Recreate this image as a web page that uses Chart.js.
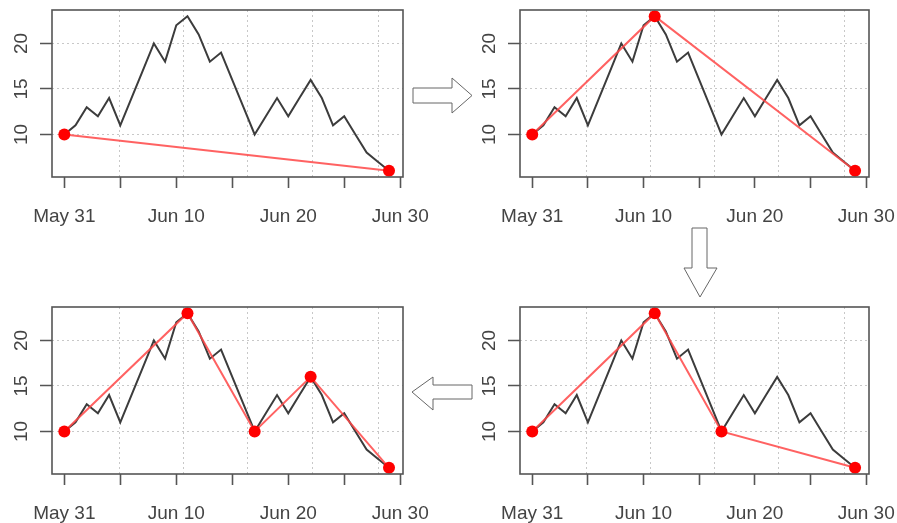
<!DOCTYPE html>
<html>
<head>
<meta charset="utf-8">
<script src="https://cdn.jsdelivr.net/npm/chart.js@4/dist/chart.umd.min.js"></script>
<style>
  html, body { margin: 0; padding: 0; background: #fff; overflow: hidden; }
  body { width: 897px; height: 523px; position: relative; }
  .panel { position: absolute; }
  svg { position: absolute; left: 0; top: 0; }
</style>
</head>
<body>
<div class="panel" id="p1" style="left:0px;top:0px;width:440px;height:240px"><canvas id="c1"></canvas></div>
<div class="panel" id="p2" style="left:468px;top:0px;width:429px;height:240px"><canvas id="c2"></canvas></div>
<div class="panel" id="p3" style="left:0px;top:297px;width:440px;height:226px"><canvas id="c3"></canvas></div>
<div class="panel" id="p4" style="left:468px;top:297px;width:429px;height:226px"><canvas id="c4"></canvas></div>
<svg width="897" height="523" viewBox="0 0 897 523">
  <polygon points="413,88 452,88 452,78 472,95.5 452,113 452,103 413,103" fill="#fff" stroke="#666" stroke-width="1"/>
  <polygon points="692,228 707,228 707,268 717,268 700,297 684,268 692,268" fill="#fff" stroke="#666" stroke-width="1"/>
  <polygon points="412,392 433,377 433,385 472,385 472,399 433,399 433,410" fill="#fff" stroke="#666" stroke-width="1"/>
</svg>
<script>
// ---- data (day offset from May 31) ----
const days   = [0,1,2,3,4,5,6,7,8,9,10,11,12,13,14,15,16,17,18,19,20,21,22,23,24,25,26,27,28,29];
const values = [10,11,13,12,14,11,14,17,20,18,22,23,21,18,19,16,13,10,12,14,12,14,16,14,11,12,10,8,7,6];

// key points kept in each panel (indices into days/values)
const keptPanel1 = [0, 29];
const keptPanel2 = [0, 11, 29];
const keptPanel3 = [0, 11, 17, 22, 29];
const keptPanel4 = [0, 11, 17, 29];

// axis ticks
const xTickDays   = [0, 5, 10, 15, 20, 25, 30];
const xLabelDays  = [0, 10, 20, 30];
const xLabelTexts = ["May 31", "Jun 10", "Jun 20", "Jun 30"];
const yTicks      = [10, 15, 20];
const xGridDays   = [4.85, 10.6, 16.35, 22.1, 28.0];

const FONT = '"Liberation Sans", Arial, sans-serif';
const AXIS_COLOR = '#555';
const TEXT_COLOR = '#444';

const boxPlugin = {
  id: 'rbox',
  beforeDatasetsDraw(chart) {
    const {ctx, chartArea: a, scales} = chart;
    ctx.save();
    ctx.strokeStyle = '#c8c8c8';
    ctx.lineWidth = 1;
    ctx.setLineDash([2, 3]);
    xGridDays.forEach(d => {
      const px = Math.round(scales.x.getPixelForValue(d)) + 0.5;
      ctx.beginPath();
      ctx.moveTo(px, a.top);
      ctx.lineTo(px, a.bottom);
      ctx.stroke();
    });
    ctx.restore();
  },
  afterDraw(chart) {
    const {ctx, chartArea: a, scales} = chart;
    ctx.save();
    ctx.strokeStyle = AXIS_COLOR;
    ctx.lineWidth = 1.6;
    ctx.strokeRect(a.left, a.top, a.right - a.left, a.bottom - a.top);
    // rotated y labels (R style)
    ctx.fillStyle = TEXT_COLOR;
    ctx.font = '19px ' + FONT;
    ctx.textAlign = 'center';
    ctx.textBaseline = 'middle';
    scales.y.ticks.forEach(t => {
      const py = scales.y.getPixelForValue(t.value);
      ctx.save();
      ctx.translate(a.left - 30, py);
      ctx.rotate(-Math.PI / 2);
      ctx.fillText(String(t.value), 0, 0);
      ctx.restore();
    });
    ctx.restore();
  }
};

function makeChart(id, kept, xAxisHeight, padRight) {
  const series = days.map((d, i) => ({x: d, y: values[i]}));
  const keptPts = kept.map(i => ({x: days[i], y: values[i]}));
  return new Chart(document.getElementById(id), {
    type: 'line',
    data: {
      datasets: [
        {
          data: keptPts,
          borderColor: 'rgba(255,70,70,0.85)',
          borderWidth: 2,
          pointRadius: 6,
          pointBackgroundColor: '#ff0000',
          pointBorderColor: '#ff0000',
          pointBorderWidth: 0,
          tension: 0,
          order: 0
        },
        {
          data: series,
          borderColor: '#3c3c3c',
          borderWidth: 2,
          pointRadius: 0,
          tension: 0,
          order: 1
        }
      ]
    },
    options: {
      responsive: true,
      maintainAspectRatio: false,
      animation: false,
      devicePixelRatio: 1,
      layout: { padding: { left: 0, top: 10, right: padRight, bottom: 0 } },
      plugins: { legend: { display: false }, tooltip: { enabled: false } },
      scales: {
        x: {
          type: 'linear',
          min: -1.1,
          max: 30.25,
          afterBuildTicks(scale) { scale.ticks = xTickDays.map(v => ({value: v})); },
          afterFit(scale) {
            scale.height = xAxisHeight;
            scale.paddingLeft = 0;
            scale.paddingRight = 0;
          },
          border: { display: false },
          grid: {
            drawOnChartArea: false,
            drawTicks: true,
            tickLength: 11,
            tickColor: AXIS_COLOR,
            tickWidth: 1.6
          },
          ticks: {
            autoSkip: false,
            maxRotation: 0,
            minRotation: 0,
            padding: 17,
            color: TEXT_COLOR,
            font: { family: FONT, size: 19 },
            callback(v) {
              const k = xLabelDays.indexOf(v);
              return k >= 0 ? xLabelTexts[k] : '';
            }
          }
        },
        y: {
          type: 'linear',
          min: 5.32,
          max: 23.68,
          afterBuildTicks(scale) { scale.ticks = yTicks.map(v => ({value: v})); },
          afterFit(scale) {
            scale.width = 52;
            scale.paddingTop = 0;
            scale.paddingBottom = 0;
          },
          border: { display: false, dash: [2, 3] },
          grid: {
            color: '#c8c8c8',
            lineWidth: 1,
            drawTicks: true,
            tickLength: 12,
            tickColor: AXIS_COLOR,
            tickWidth: 1.6,
            tickBorderDash: [1, 0]
          },
          ticks: { display: false }
        }
      }
    },
    plugins: [boxPlugin]
  });
}

makeChart('c1', keptPanel1, 63, 37);
makeChart('c2', keptPanel2, 63, 28);
makeChart('c3', keptPanel3, 49, 37);
makeChart('c4', keptPanel4, 49, 28);
</script>
</body>
</html>
